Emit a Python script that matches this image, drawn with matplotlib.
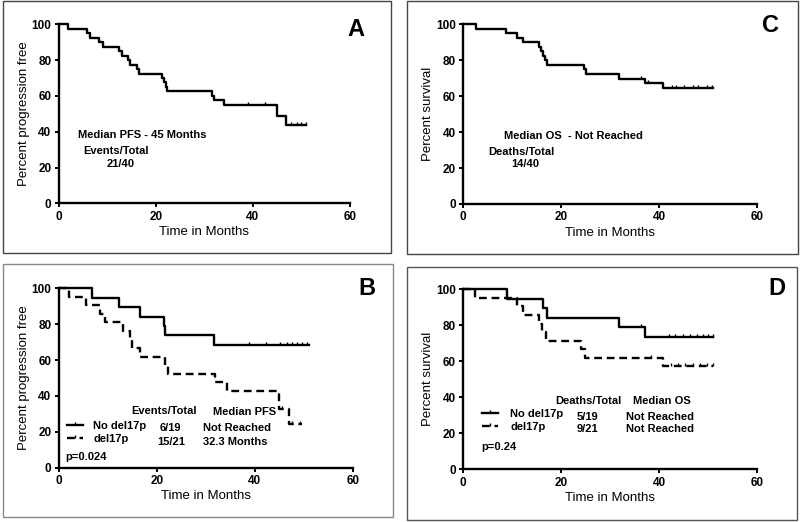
import numpy as np
import matplotlib.pyplot as plt
from matplotlib.patches import Rectangle
from matplotlib.lines import Line2D

plt.rcParams["font.family"] = ["Liberation Sans", "DejaVu Sans"]

# Panel A - PFS, all patients
a_time = [0, 1.9, 5.9, 6.5, 8.3, 9.2, 12.4, 13.0, 14.3, 14.7, 16.1, 16.6,
          21.3, 21.7, 22.0, 22.4, 31.6, 32.0, 34.1, 44.9, 46.9, 50.9]
a_surv = [100, 97.5, 95, 92.5, 90, 87.5, 85, 82.5, 80, 77.5, 75, 72.5,
          70, 67.5, 65, 62.5, 60, 57.5, 55, 48.9, 44.0, 44.0]
a_cens = [38.9, 42.5, 47.9, 49.0, 50.0, 50.9]

# Panel C - OS, all patients
c_time = [0, 2.6, 8.8, 10.9, 12.2, 15.5, 15.8, 16.2, 16.6, 17.0,
          24.6, 25.0, 31.8, 37.1, 40.7, 51.0]
c_surv = [100, 97.5, 95, 92.5, 90, 87.5, 85, 82.5, 80, 77.5,
          75, 72.5, 69.8, 67.3, 64.6, 64.6]
c_cens = [36.2, 37.7, 42.5, 43.5, 45.0, 46.8, 47.9, 49.7, 50.7]

# Panel B - PFS by del17p
b_no_time = [0, 6.7, 12.4, 16.5, 21.4, 21.6, 31.6, 51.0]
b_no_surv = [100, 94.7, 89.5, 84.2, 78.9, 73.7, 68.4, 68.4]
b_no_cens = [38.9, 42.4, 45.2, 46.5, 47.6, 48.6, 49.6, 50.7]
b_del_time = [0, 2.0, 5.6, 8.4, 9.5, 13.2, 14.6, 14.9, 16.6, 21.7, 22.4,
              31.9, 34.3, 45.0, 46.9, 49.6]
b_del_surv = [100, 95.2, 90.5, 85.7, 81.0, 76.2, 71.4, 66.7, 61.9, 57.1, 52.4,
              47.6, 42.9, 32.7, 24.6, 24.6]
b_del_cens = [45.6, 47.6, 49.2]

# Panel D - OS by del17p
d_no_time = [0, 9.0, 16.3, 17.0, 31.8, 37.1, 51.0]
d_no_surv = [100, 94.7, 89.5, 84.2, 78.9, 73.7, 73.7]
d_no_cens = [36.2, 42.0, 43.2, 44.9, 46.3, 47.6, 49.0, 50.0, 51.0]
d_del_time = [0, 2.4, 11.0, 12.1, 15.5, 16.0, 16.8, 24.1, 24.8, 40.7, 51.0]
d_del_surv = [100, 95.2, 90.5, 85.7, 81.0, 76.2, 71.4, 66.7, 61.9, 57.3, 57.3]
d_del_cens = [38.4, 42.3, 43.8, 45.3, 46.8, 48.3, 49.7, 51.0]

W, H = 800, 522
DASH = (0, (3.3, 2.0))
TXT = dict(fontsize=8, fontweight="bold", clip_on=False)


def km(ax, t, s, cens, ls="-"):
    t = np.asarray(t)
    s = np.asarray(s)
    ax.plot(t, s, drawstyle="steps-post", color="black", lw=1.7, ls=ls,
            clip_on=False)
    cens = np.asarray(cens)
    lev = s[np.searchsorted(t, cens, side="right") - 1]
    ax.plot(cens, lev, ls="none", marker=2, ms=2.5, mew=1.0, color="black",
            clip_on=False)


def setup(rect, ylabel, letter, letter_xy):
    l, r, top, bot = rect
    ax = fig.add_axes([l / W, 1 - bot / H, (r - l) / W, (bot - top) / H])
    ax.set_xlim(0, 60)
    ax.set_ylim(0, 100)
    ax.set_xticks([0, 20, 40, 60])
    ax.set_yticks([0, 20, 40, 60, 80, 100])
    for side in ["top", "right"]:
        ax.spines[side].set_visible(False)
    for side in ["left", "bottom"]:
        ax.spines[side].set_linewidth(1.7)
    ax.tick_params(width=1.4, length=3.2, labelsize=8.5, pad=2)
    for lab in ax.get_xticklabels() + ax.get_yticklabels():
        lab.set_fontweight("bold")
    ax.set_xlabel("Time in Months", fontsize=9.5, labelpad=2.5)
    ax.set_ylabel(ylabel, fontsize=9.5, labelpad=1.5)
    ax.text(letter_xy[0], letter_xy[1], letter, fontsize=17,
            fontweight="bold", ha="center", va="center", clip_on=False)
    return ax


fig = plt.figure(figsize=(8, 5.22), dpi=100)

# panel frames (pixel boxes)
for x0, y0, x1, y1, col in [(3, 1, 390.7, 253.3, "#444444"),
                            (3, 264.3, 392.7, 516.7, "#888888"),
                            (407.3, 1, 797.7, 254, "#444444"),
                            (407.3, 266.7, 797, 520, "#555555")]:
    fig.patches.append(Rectangle((x0 / W, 1 - y1 / H), (x1 - x0) / W,
                                 (y1 - y0) / H, transform=fig.transFigure,
                                 fill=False, ec=col, lw=1.0))

# A
ax = setup((58.7, 350, 24.3, 203.3), "Percent progression free", "A",
           (61.2, 97.2))
km(ax, a_time, a_surv, a_cens)
ax.text(17.3, 38.2, "Median PFS - 45 Months", ha="center", va="center", **TXT)
ax.text(11.7, 29.4, "Events/Total", ha="center", va="center", **TXT)
ax.text(12.8, 21.8, "21/40", ha="center", va="center", **TXT)

# C
ax = setup((463.3, 757.3, 24.3, 204), "Percent survival", "C", (62.6, 99.6))
km(ax, c_time, c_surv, c_cens)
ax.text(22.5, 38, "Median OS  - Not Reached", ha="center", va="center", **TXT)
ax.text(11.9, 29.1, "Deaths/Total", ha="center", va="center", **TXT)
ax.text(12.6, 22, "14/40", ha="center", va="center", **TXT)

# B
ax = setup((58.7, 352.7, 288.3, 467.7), "Percent progression free", "B",
           (62.9, 100))
km(ax, b_no_time, b_no_surv, b_no_cens)
km(ax, b_del_time, b_del_surv, b_del_cens, ls=DASH)
ax.text(21.4, 31.6, "Events/Total", ha="center", va="center", **TXT)
ax.text(31.4, 31.2, "Median PFS", ha="left", va="center", **TXT)
ax.text(22.7, 21.9, "6/19", ha="center", va="center", **TXT)
ax.text(22.9, 14.5, "15/21", ha="center", va="center", **TXT)
ax.text(29.4, 21.9, "Not Reached", ha="left", va="center", **TXT)
ax.text(29.4, 14.5, "32.3 Months", ha="left", va="center", **TXT)
ax.text(1.4, 6.1, "p=0.024", ha="left", va="center", **TXT)
h1 = Line2D([], [], color="black", lw=1.7, marker=2, ms=2.5, mew=1.0)
h2 = Line2D([], [], color="black", lw=1.7, ls=DASH, marker=2, ms=2.5, mew=1.0)
ax.legend([h1, h2], ["No del17p", "del17p"], loc="upper left",
          bbox_to_anchor=(0.027, 0.262), frameon=False, numpoints=1,
          handlelength=1.5, handletextpad=0.9, borderpad=0,
          borderaxespad=0, labelspacing=0.3,
          prop=dict(size=8, weight="bold"))

# D
ax = setup((463.3, 757.3, 289.3, 469.3), "Percent survival", "D", (64, 100.6))
km(ax, d_no_time, d_no_surv, d_no_cens)
km(ax, d_del_time, d_del_surv, d_del_cens, ls=DASH)
ax.text(18.7, 38, "Deaths/Total", ha="left", va="center", **TXT)
ax.text(34.7, 38, "Median OS", ha="left", va="center", **TXT)
ax.text(25.3, 29.1, "5/19", ha="center", va="center", **TXT)
ax.text(25.3, 22.4, "9/21", ha="center", va="center", **TXT)
ax.text(33.2, 29.1, "Not Reached", ha="left", va="center", **TXT)
ax.text(33.2, 22.4, "Not Reached", ha="left", va="center", **TXT)
ax.text(3.7, 12.6, "p=0.24", ha="left", va="center", **TXT)
ax.legend([h1, h2], ["No del17p", "del17p"], loc="upper left",
          bbox_to_anchor=(0.062, 0.335), frameon=False, numpoints=1,
          handlelength=1.5, handletextpad=1.1, borderpad=0,
          borderaxespad=0, labelspacing=0.3,
          prop=dict(size=8, weight="bold"))

fig.savefig("out.png", dpi=100)
